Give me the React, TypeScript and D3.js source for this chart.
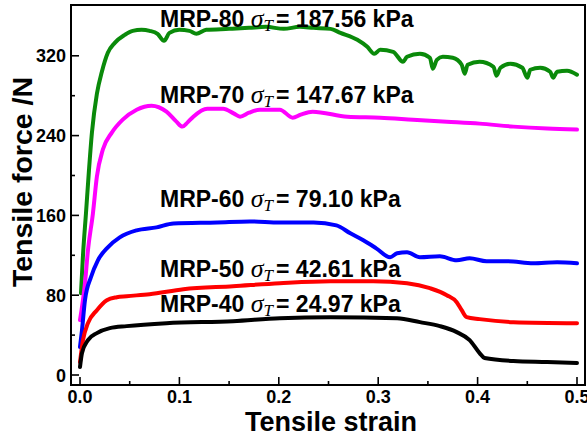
import React from "react";
import * as d3 from "d3";

const xTicks = [0, 0.1, 0.2, 0.3, 0.4, 0.5];
const xMinor = [0.05, 0.15, 0.25, 0.35, 0.45];
const yTicks = [0, 80, 160, 240, 320];
const yMinor = [40, 120, 200, 280];

const mrp80: [number, number][] = [
  [0.001, 82], [0.003, 120], [0.006, 162], [0.009, 205], [0.012, 243], [0.017, 282], [0.022, 304],
  [0.028, 323], [0.035, 333], [0.045, 341], [0.053, 345], [0.062, 346], [0.07, 345], [0.078, 342],
  [0.0845, 335], [0.09, 343], [0.1, 346], [0.11, 345], [0.117, 342], [0.127, 346], [0.15, 347],
  [0.17, 348], [0.187, 349], [0.205, 347], [0.221, 349], [0.235, 348], [0.252, 347], [0.262, 343],
  [0.279, 336], [0.289, 329], [0.296, 322], [0.302, 326], [0.315, 324], [0.325, 314], [0.329, 319],
  [0.342, 322], [0.352, 318], [0.355, 307], [0.359, 316], [0.365, 319], [0.375, 318], [0.384, 311],
  [0.387, 302], [0.39, 311], [0.402, 314], [0.416, 309], [0.419, 300], [0.423, 308], [0.433, 312],
  [0.445, 308], [0.45, 298], [0.453, 306], [0.463, 308], [0.473, 304], [0.476, 298], [0.48, 304],
  [0.49, 305], [0.5, 301],
];
const mrp70: [number, number][] = [
  [0.0, 55], [0.005, 92], [0.008, 125], [0.013, 162], [0.017, 199], [0.023, 226], [0.032, 243],
  [0.043, 256], [0.057, 266], [0.072, 270], [0.087, 264], [0.097, 254], [0.103, 249], [0.108, 253],
  [0.114, 259], [0.128, 267], [0.144, 267], [0.155, 262], [0.161, 259], [0.17, 263], [0.181, 266],
  [0.201, 266], [0.214, 258], [0.222, 261], [0.234, 264], [0.269, 259], [0.302, 258], [0.335, 256],
  [0.369, 254], [0.402, 252], [0.436, 249], [0.47, 247], [0.5, 246],
];
const mrp60: [number, number][] = [
  [0.0, 28], [0.002, 45], [0.005, 75], [0.011, 98], [0.018, 115], [0.028, 128], [0.04, 138],
  [0.057, 145], [0.077, 148], [0.094, 152], [0.138, 153], [0.171, 154], [0.201, 153], [0.235, 153],
  [0.258, 150], [0.272, 142], [0.285, 135], [0.298, 127], [0.312, 118], [0.319, 122], [0.329, 123],
  [0.342, 118], [0.362, 119], [0.379, 115], [0.392, 117], [0.409, 114], [0.43, 114], [0.456, 112],
  [0.48, 113], [0.5, 112],
];
const mrp50: [number, number][] = [
  [0.0, 13], [0.003, 35], [0.008, 52], [0.017, 65], [0.027, 75], [0.037, 78], [0.047, 79], [0.07, 81],
  [0.104, 86], [0.154, 89], [0.201, 92], [0.252, 94], [0.295, 94], [0.329, 92], [0.352, 87], [0.369, 80],
  [0.379, 73], [0.384, 65], [0.389, 58], [0.402, 56], [0.436, 53], [0.5, 52],
];
const mrp40: [number, number][] = [
  [0.0, 8], [0.002, 22], [0.008, 35], [0.017, 42], [0.03, 47], [0.047, 49], [0.087, 52], [0.154, 54],
  [0.201, 57], [0.252, 58], [0.319, 57], [0.342, 53], [0.362, 49], [0.379, 43], [0.392, 35], [0.402, 22],
  [0.407, 17], [0.436, 14], [0.47, 13], [0.5, 12],
];

const seriesNames = ["MRP-80", "MRP-70", "MRP-60", "MRP-50", "MRP-40"];
const seriesData = [mrp80, mrp70, mrp60, mrp50, mrp40];
const seriesColors = ["#0a8a0a", "#ff00ff", "#0000ff", "#ff0000", "#000000"];
const strengths = ["187.56", "147.67", "79.10", "42.61", "24.97"];
const labelBaselines = [27, 103, 207, 277, 312];

export default function App() {
  const x = d3.scaleLinear().domain([0, 0.5]).range([80, 577]);
  const y = d3.scaleLinear().domain([0, 320]).range([375, 55.8]);
  const left = 71, right = 585, top = 5, bottom = 385;
  const line = d3
    .line<[number, number]>()
    .x((d) => x(d[0]))
    .y((d) => y(d[1]))
    .curve(d3.curveMonotoneX);
  const sans = "'Liberation Sans', Arial, sans-serif";
  const serif = "'Liberation Serif', 'Times New Roman', serif";
  return (
    <svg
      width={587}
      height={436}
      style={{ position: "absolute", left: 0, top: 0, background: "#fff" }}
    >
      <rect x={0} y={0} width={587} height={436} fill="#fff" />
      {seriesData.map((d, i) => (
        <path
          key={i}
          d={line(d) || ""}
          fill="none"
          stroke={seriesColors[i]}
          strokeWidth={4}
          strokeLinejoin="round"
          strokeLinecap="round"
        />
      ))}
      <rect x={left} y={top} width={right - left} height={bottom - top} fill="none" stroke="#000" strokeWidth={2} />
      {xTicks.map((t) => (
        <g key={"xt" + t}>
          <line x1={x(t)} x2={x(t)} y1={bottom} y2={bottom - 8} stroke="#000" strokeWidth={1.6} />
          <text x={x(t)} y={403} textAnchor="middle" fontFamily={sans} fontWeight="bold" fontSize={18}>
            {t.toFixed(1)}
          </text>
        </g>
      ))}
      {xMinor.map((t) => (
        <line key={"xm" + t} x1={x(t)} x2={x(t)} y1={bottom} y2={bottom - 4} stroke="#000" strokeWidth={1.6} />
      ))}
      {yTicks.map((t) => (
        <g key={"yt" + t}>
          <line x1={left} x2={left + 8} y1={y(t)} y2={y(t)} stroke="#000" strokeWidth={1.6} />
          <text x={66} y={y(t) + 6.5} textAnchor="end" fontFamily={sans} fontWeight="bold" fontSize={18}>
            {t}
          </text>
        </g>
      ))}
      {yMinor.map((t) => (
        <line key={"ym" + t} x1={left} x2={left + 4} y1={y(t)} y2={y(t)} stroke="#000" strokeWidth={1.6} />
      ))}
      <text x={331} y={431} textAnchor="middle" fontFamily={sans} fontWeight="bold" fontSize={27}>
        Tensile strain
      </text>
      <text
        transform={`translate(32,${182}) rotate(-90)`}
        textAnchor="middle"
        fontFamily={sans}
        fontWeight="bold"
        fontSize={28.5}
      >
        Tensile force /N
      </text>
      {seriesNames.map((n, i) => (
        <text key={"lab" + i} x={160} y={labelBaselines[i]} fontFamily={sans} fontWeight="bold" fontSize={23}>
          <tspan>{n + " "}</tspan>
          <tspan fontFamily={serif} fontStyle="italic" fontWeight="normal" fontSize={26}>σ</tspan>
          <tspan fontFamily={serif} fontStyle="italic" fontWeight="normal" fontSize={17} dy={4}>T</tspan>
          <tspan dy={-4} dx={3}>{"= " + strengths[i] + " kPa"}</tspan>
        </text>
      ))}
    </svg>
  );
}
